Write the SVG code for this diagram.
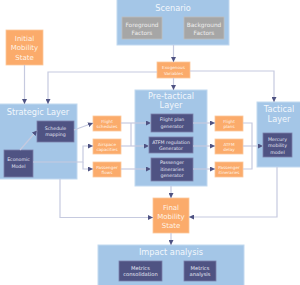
<svg xmlns="http://www.w3.org/2000/svg" width="300" height="285" viewBox="0 0 300 285">
<defs>
<style>
text{font-family:"DejaVu Sans",Verdana,sans-serif;text-anchor:middle}
.layer{fill:#a4c6e7;stroke:#c2d9f0;stroke-width:1}
.dark{fill:#4f5383;stroke:#7a7faa;stroke-width:0.8}
.orange{fill:#fbab6b;stroke:#fcc89c;stroke-width:0.8}
.gray{fill:#a6a6a6;stroke:#bdbdbd;stroke-width:0.8}
.title{font-size:8.2px;fill:#f2f7fc}
.big{font-size:7px;fill:#fff3e6}
.dt{font-size:4.7px;fill:#e4e6f3}
.ot{font-size:4.2px;fill:#fff3e6}
.gt{font-size:5.8px;fill:#eeeeee}
.mt{font-size:5.2px;fill:#e4e6f3}
.conn path{fill:none;stroke:#c6cadf;stroke-width:1.2}
</style>
<marker id="arr" viewBox="0 0 6 6" refX="6" refY="3" markerWidth="5" markerHeight="5" markerUnits="userSpaceOnUse" orient="auto">
<path d="M0,0 L6,3 L0,6 Z" fill="#4f5383"/>
</marker>
</defs>
<rect width="300" height="285" fill="#ffffff"/>

<g id="scenario">
<rect class="layer" x="117" y="-1" width="112" height="46"/>
<text class="title" x="173" y="10.5">Scenario</text>
</g>
<g id="foreground">
<rect class="gray" x="122" y="17" width="40" height="22"/>
<text class="gt" x="142" y="27">Foreground</text>
<text class="gt" x="142" y="34.5">Factors</text>
</g>
<g id="background">
<rect class="gray" x="184" y="17" width="40" height="22"/>
<text class="gt" x="204" y="27">Background</text>
<text class="gt" x="204" y="34.5">Factors</text>
</g>
<g id="initial">
<rect class="orange" x="6" y="30" width="37" height="35"/>
<text class="big" x="24.5" y="40.5">Initial</text>
<text class="big" x="24.5" y="50">Mobility</text>
<text class="big" x="24.5" y="59.5">State</text>
</g>
<g id="exogenous">
<rect class="orange" x="157" y="62" width="33" height="16"/>
<text class="ot" x="173.5" y="68.5">Exogenous</text>
<text class="ot" x="173.5" y="74.5">Variables</text>
</g>

<g id="strategic">
<rect class="layer" x="-1" y="104" width="78" height="75"/>
<text class="title" x="38" y="115">Strategic Layer</text>
</g>
<g id="schedule">
<rect class="dark" x="37" y="121" width="37" height="21"/>
<text class="dt" x="55.5" y="129.5">Schedule</text>
<text class="dt" x="55.5" y="135.5">mapping</text>
</g>
<g id="economic">
<rect class="dark" x="4" y="150" width="29" height="27"/>
<text class="dt" x="18.5" y="161">Economic</text>
<text class="dt" x="18.5" y="168">Model</text>
</g>

<g id="flightschedules">
<rect class="orange" x="93" y="116" width="28" height="15"/>
<text class="ot" x="107" y="122.5">Flight</text>
<text class="ot" x="107" y="127.5">schedules</text>
</g>
<g id="airspace">
<rect class="orange" x="93" y="139" width="28" height="15"/>
<text class="ot" x="107" y="145.5">Airspace</text>
<text class="ot" x="107" y="150.5">capacities</text>
</g>
<g id="paxflows">
<rect class="orange" x="93" y="162" width="28" height="15"/>
<text class="ot" x="107" y="168.5">Passenger</text>
<text class="ot" x="107" y="173.5">flows</text>
</g>

<g id="pretactical">
<rect class="layer" x="135" y="90" width="72" height="96"/>
<text class="title" x="171" y="99">Pre-tactical</text>
<text class="title" x="171" y="108">Layer</text>
</g>
<g id="flightplangen">
<rect class="dark" x="151" y="114" width="42" height="18"/>
<text class="dt" x="172" y="121">Flight plan</text>
<text class="dt" x="172" y="127.5">generator</text>
</g>
<g id="atfmgen">
<rect class="dark" x="149" y="137" width="44" height="16"/>
<text class="dt" x="171" y="143.5">ATFM regulation</text>
<text class="dt" x="171" y="149.5">Generator</text>
</g>
<g id="paxgen">
<rect class="dark" x="151" y="158" width="42" height="23"/>
<text class="dt" x="172" y="163.8">Passenger</text>
<text class="dt" x="172" y="170.5">itineraries</text>
<text class="dt" x="172" y="177.2">generator</text>
</g>

<g id="flightplans">
<rect class="orange" x="215" y="116" width="28" height="15"/>
<text class="ot" x="229" y="122.5">Flight</text>
<text class="ot" x="229" y="127.5">plans</text>
</g>
<g id="atfmdelay">
<rect class="orange" x="215" y="139" width="28" height="15"/>
<text class="ot" x="229" y="145.5">ATFM</text>
<text class="ot" x="229" y="150.5">delay</text>
</g>
<g id="paxitin">
<rect class="orange" x="215" y="162" width="28" height="15"/>
<text class="ot" x="229" y="168.5">Passenger</text>
<text class="ot" x="229" y="173.5">itineraries</text>
</g>

<g id="tactical">
<rect class="layer" x="257" y="102" width="44" height="65"/>
<text class="title" x="279" y="112">Tactical</text>
<text class="title" x="279" y="122">Layer</text>
</g>
<g id="mercury">
<rect class="dark" x="263" y="133" width="29" height="24"/>
<text class="dt" x="277.5" y="140.5">Mercury</text>
<text class="dt" x="277.5" y="147">mobility</text>
<text class="dt" x="277.5" y="153.5">model</text>
</g>

<g id="final">
<rect class="orange" x="153" y="198" width="36" height="35"/>
<text class="big" x="171" y="209.5">Final</text>
<text class="big" x="171" y="218.5">Mobility</text>
<text class="big" x="171" y="227.5">State</text>
</g>

<g id="impact">
<rect class="layer" x="98" y="245" width="146" height="41"/>
<text class="title" x="171" y="254.5">Impact analysis</text>
</g>
<g id="consolidation">
<rect class="dark" x="119" y="261" width="43" height="20"/>
<text class="mt" x="140.5" y="269.5">Metrics</text>
<text class="mt" x="140.5" y="276">consolidation</text>
</g>
<g id="analysis">
<rect class="dark" x="184" y="261" width="32" height="20"/>
<text class="mt" x="200" y="269.5">Metrics</text>
<text class="mt" x="200" y="276">analysis</text>
</g>

<g id="connectors" class="conn">
<path d="M24.5,65 V104" marker-end="url(#arr)"/>
<path d="M173.5,45 V62" marker-end="url(#arr)"/>
<path d="M173.5,78 V90" marker-end="url(#arr)"/>
<path d="M157,72 H48 V104" marker-end="url(#arr)"/>
<path d="M190,71 H274 V102" marker-end="url(#arr)"/>
<path d="M20,150 L37,130.5" marker-end="url(#arr)"/>
<path d="M74,130 L93,123" marker-end="url(#arr)"/>
<path d="M33,162 H83 V146 H93" marker-end="url(#arr)"/>
<path d="M83,162 V169 H93" marker-end="url(#arr)"/>
<path d="M121,123 H151" marker-end="url(#arr)"/>
<path d="M131,123 V146"/>
<path d="M121,146 H149" marker-end="url(#arr)"/>
<path d="M121,169 H151" marker-end="url(#arr)"/>
<path d="M193,123 H215" marker-end="url(#arr)"/>
<path d="M193,146 H215" marker-end="url(#arr)"/>
<path d="M193,169 H215" marker-end="url(#arr)"/>
<path d="M243,123 H252 V169 H243"/>
<path d="M243,146 H263" marker-end="url(#arr)"/>
<path d="M60,179 V217.5 H153" marker-end="url(#arr)"/>
<path d="M171,186 V198" marker-end="url(#arr)"/>
<path d="M277,167 V217 H189" marker-end="url(#arr)"/>
<path d="M171,233 V245" marker-end="url(#arr)"/>
</g>
</svg>
